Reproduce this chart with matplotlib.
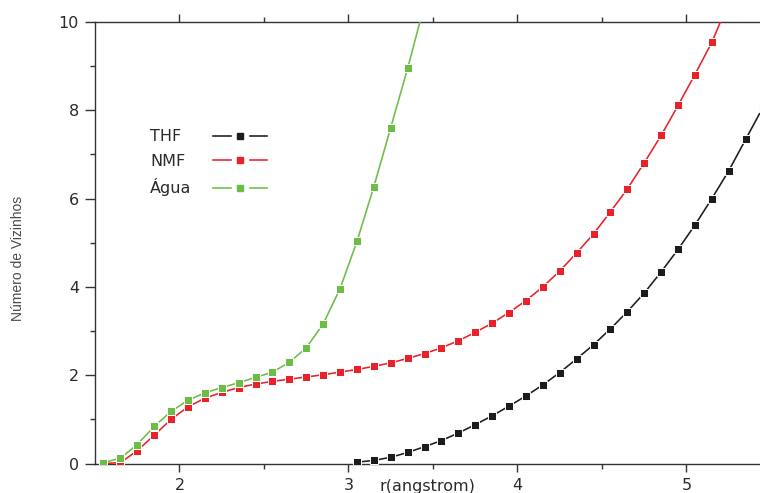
"""Coordination number curves for THF, NMF and water."""

import matplotlib

matplotlib.use("Agg")
import matplotlib.pyplot as plt
from matplotlib.legend_handler import HandlerTuple
from matplotlib.lines import Line2D
from matplotlib.ticker import FixedLocator, MultipleLocator

# data
r_agua = [1.55, 1.65, 1.75, 1.85, 1.95, 2.05, 2.15, 2.25, 2.35, 2.45,
          2.55, 2.65, 2.75, 2.85, 2.95, 3.05, 3.15, 3.25, 3.35, 3.45]
n_agua = [0.02, 0.12, 0.43, 0.84, 1.18, 1.43, 1.60, 1.72, 1.83, 1.95,
          2.07, 2.29, 2.62, 3.16, 3.96, 5.03, 6.27, 7.61, 8.95, 10.4]

r_nmf = [1.55, 1.65, 1.75, 1.85, 1.95, 2.05, 2.15, 2.25, 2.35, 2.45,
         2.55, 2.65, 2.75, 2.85, 2.95, 3.05, 3.15, 3.25, 3.35, 3.45,
         3.55, 3.65, 3.75, 3.85, 3.95, 4.05, 4.15, 4.25, 4.35, 4.45,
         4.55, 4.65, 4.75, 4.85, 4.95, 5.05, 5.15, 5.25]
n_nmf = [0.00, 0.02, 0.29, 0.64, 1.00, 1.28, 1.48, 1.61, 1.72, 1.80,
         1.86, 1.91, 1.96, 2.01, 2.07, 2.13, 2.20, 2.28, 2.38, 2.49,
         2.62, 2.78, 2.97, 3.18, 3.42, 3.69, 4.00, 4.36, 4.77, 5.20,
         5.70, 6.22, 6.81, 7.43, 8.11, 8.81, 9.54, 10.45]

r_thf = [3.05, 3.15, 3.25, 3.35, 3.45, 3.55, 3.65, 3.75, 3.85, 3.95,
         4.05, 4.15, 4.25, 4.35, 4.45, 4.55, 4.65, 4.75, 4.85, 4.95,
         5.05, 5.15, 5.25, 5.35, 5.45]
n_thf = [0.03, 0.07, 0.14, 0.25, 0.38, 0.52, 0.69, 0.88, 1.08, 1.30,
         1.53, 1.78, 2.06, 2.37, 2.69, 3.05, 3.44, 3.86, 4.34, 4.85,
         5.40, 6.00, 6.63, 7.34, 8.05]

x_major = [2, 3, 4, 5]
x_minor = [2.5, 3.5, 4.5]

series = [
    ("THF", r_thf, n_thf, "#1c1c1c"),
    ("NMF", r_nmf, n_nmf, "#e8212b"),
    ("Água", r_agua, n_agua, "#6cbd45"),
]
names = [s[0] for s in series]

TEXT = "#2a2a2a"
AXIS = "#333333"
LEG_TOP = 0.757

plt.rcParams["font.family"] = ["DejaVu Sans"]

fig = plt.figure(figsize=(7.6, 4.93), dpi=100)
ax = fig.add_axes([95 / 760, 1 - 463.5 / 493, 665 / 760, 441.5 / 493])

keys = []
for name, r, n, color in series:
    ax.plot(r, n, color=color, lw=1.15, marker="s", ms=5.2,
            mfc=color, mec="white", mew=0.7, zorder=3)
    line = Line2D([], [], color=color, lw=1.15)
    gap = Line2D([], [], ls="none", marker="s", ms=12, mfc="white", mec="white")
    mark = Line2D([], [], ls="none", marker="s", ms=5, mfc=color, mec=color)
    keys.append((line, gap, mark))

ax.set_xlim(1.5, 5.435)
ax.set_ylim(0, 10)

ax.xaxis.set_major_locator(FixedLocator(x_major))
ax.xaxis.set_minor_locator(FixedLocator(x_minor))
ax.yaxis.set_major_locator(MultipleLocator(2))
ax.yaxis.set_minor_locator(MultipleLocator(1))

ax.spines["right"].set_visible(False)
for side in ("left", "top", "bottom"):
    ax.spines[side].set_color(AXIS)
    ax.spines[side].set_linewidth(1.0)

ax.tick_params(axis="both", which="both", direction="out", colors=AXIS,
               labelcolor=TEXT, labelsize=11.5, width=1.0)
ax.tick_params(axis="x", which="both", top=True, labeltop=False)
ax.tick_params(axis="x", which="major", length=6, pad=4.5)
ax.tick_params(axis="x", which="minor", length=3.3)
ax.tick_params(axis="y", which="major", length=7, pad=4.5)
ax.tick_params(axis="y", which="minor", length=3.8)

ax.set_xlabel("r(angstrom)", fontsize=11.5, color=TEXT)
ax.xaxis.set_label_coords(0.5, -0.051)
ax.xaxis.label.set_va("center")

ax.set_ylabel("Número de Vizinhos", fontsize=10, color="#4a4a4a",
              family=["Liberation Sans", "DejaVu Sans"])
ax.yaxis.set_label_coords(-0.116, 0.464)
ax.yaxis.label.set_va("center")

# legend: names left-aligned in one column, keys lined up in a second one
leg_opts = dict(loc="upper left", frameon=False, fontsize=11.5,
                labelspacing=0.6, borderpad=0, borderaxespad=0)
blank = [Line2D([], [], ls="none") for _ in series]
leg_names = ax.legend(blank, names, bbox_to_anchor=(0.0827, LEG_TOP),
                      handlelength=0, handletextpad=0, **leg_opts)
for txt in leg_names.get_texts():
    txt.set_color(TEXT)
ax.add_artist(leg_names)

leg_keys = ax.legend(keys, names, bbox_to_anchor=(0.1774, LEG_TOP),
                     handler_map={tuple: HandlerTuple(ndivide=1)},
                     handlelength=3.4, handletextpad=0, **leg_opts)
for txt in leg_keys.get_texts():
    txt.set_alpha(0)

fig.savefig("out.png", dpi=100)
